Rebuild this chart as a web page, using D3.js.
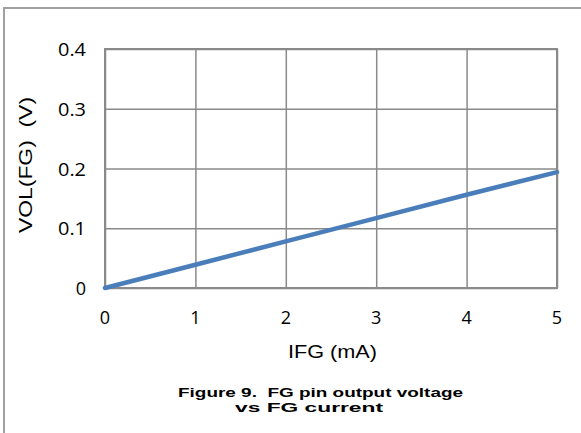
<!DOCTYPE html>
<html>
<head>
<meta charset="utf-8">
<script src="https://cdn.jsdelivr.net/npm/d3@7"></script>
<style>
  body { margin: 0; background: #fff; }
</style>
</head>
<body>
<div id="chart"></div>
<script>
// IFG (mA) vs VOL(FG) (V)
const currentMA = [0, 1, 2, 3, 4, 5];
const voltageV = [0, 0.039, 0.078, 0.117, 0.156, 0.194];
const xTicks = [0, 1, 2, 3, 4, 5];
const yTicks = [0, 0.1, 0.2, 0.3, 0.4];

const w = 581, h = 433;
const plot = { left: 105, top: 49, right: 557, bottom: 288 };
const gridColor = "#8a8a8a";

const svg = d3.select("#chart").append("svg")
    .attr("width", w)
    .attr("height", h);

// outer frame (only top and left visible in the crop)
svg.append("rect")
    .attr("x", 4).attr("y", 8)
    .attr("width", 600).attr("height", 500)
    .attr("fill", "none")
    .attr("stroke", "#a0a0a0")
    .attr("stroke-width", 2);

const x = d3.scaleLinear().domain([0, 5]).range([plot.left, plot.right]);
const y = d3.scaleLinear().domain([0, 0.4]).range([plot.bottom, plot.top]);

// gridlines
svg.append("g")
    .attr("transform", `translate(0,${plot.bottom})`)
    .call(d3.axisBottom(x).tickValues(xTicks).tickSize(-(plot.bottom - plot.top)).tickFormat(""))
    .call(g => g.select(".domain").remove())
    .call(g => g.selectAll("line").attr("stroke", gridColor).attr("stroke-width", 1.5));

svg.append("g")
    .attr("transform", `translate(${plot.left},0)`)
    .call(d3.axisLeft(y).tickValues(yTicks).tickSize(-(plot.right - plot.left)).tickFormat(""))
    .call(g => g.select(".domain").remove())
    .call(g => g.selectAll("line").attr("stroke", gridColor).attr("stroke-width", 1.5));

// plot border
svg.append("rect")
    .attr("x", plot.left).attr("y", plot.top)
    .attr("width", plot.right - plot.left).attr("height", plot.bottom - plot.top)
    .attr("fill", "none")
    .attr("stroke", gridColor)
    .attr("stroke-width", 2);

// tick labels
svg.append("g").selectAll("text")
    .data(xTicks)
    .enter().append("text")
    .attr("x", d => x(d))
    .attr("y", 324)
    .attr("text-anchor", "middle")
    .style("font-family", "'Open Sans', sans-serif")
    .style("font-size", "18px")
    .text(d => d);

svg.append("g").selectAll("text")
    .data(yTicks)
    .enter().append("text")
    .attr("x", 86)
    .attr("y", d => y(d) + 7)
    .attr("text-anchor", "end")
    .attr("textLength", d => d === 0 ? null : 28)
    .attr("lengthAdjust", "spacingAndGlyphs")
    .style("font-family", "'Open Sans', sans-serif")
    .style("font-size", "18px")
    .text(d => d === 0 ? "0" : d3.format(".1f")(d));

// data line
const line = d3.line()
    .x((d, i) => x(currentMA[i]))
    .y(d => y(d));

svg.append("path")
    .datum(voltageV)
    .attr("d", line)
    .attr("fill", "none")
    .attr("stroke", "#4a7ebb")
    .attr("stroke-width", 4.5)
    .attr("stroke-linecap", "round");

// axis titles
svg.append("text")
    .attr("x", 288).attr("y", 358)
    .attr("textLength", 89)
    .attr("lengthAdjust", "spacingAndGlyphs")
    .style("font-family", "'Liberation Sans', Arial, sans-serif")
    .style("font-size", "18px")
    .text("IFG (mA)");

svg.append("text")
    .attr("transform", "translate(32,233) rotate(-90)")
    .attr("textLength", 136)
    .attr("lengthAdjust", "spacingAndGlyphs")
    .style("font-family", "'Liberation Sans', Arial, sans-serif")
    .style("font-size", "18px")
    .style("white-space", "pre")
    .text("VOL(FG)  (V)");

// caption
const caption = ["Figure 9.  FG pin output voltage", "vs FG current"];
const captionX = [178, 235];
const captionLen = [285, 148];
svg.append("g").selectAll("text")
    .data(caption)
    .enter().append("text")
    .attr("x", (d, i) => captionX[i])
    .attr("y", (d, i) => 397 + i * 15)
    .attr("textLength", (d, i) => captionLen[i])
    .attr("lengthAdjust", "spacingAndGlyphs")
    .style("font-family", "'Liberation Sans', Arial, sans-serif")
    .style("font-size", "13px")
    .style("font-weight", "bold")
    .style("white-space", "pre")
    .text(d => d);
</script>
</body>
</html>
